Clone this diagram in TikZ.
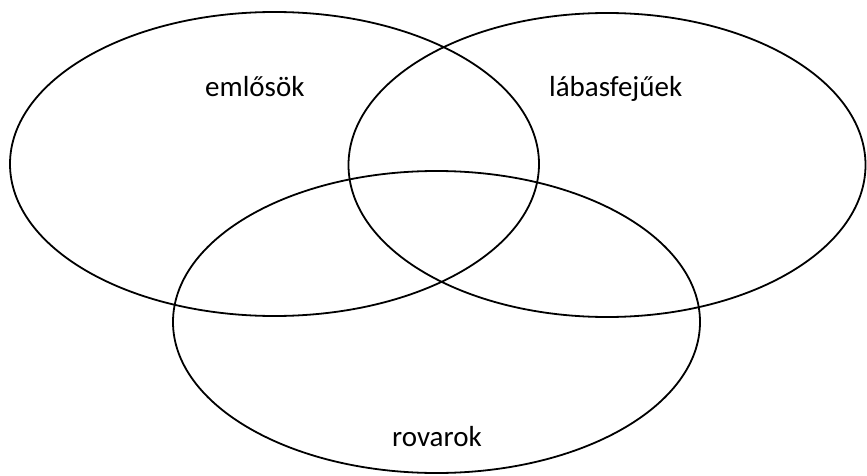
\documentclass[tikz,border=0pt]{standalone}
\usepackage{fontspec}
\setmainfont{Carlito}
\begin{document}
\begin{tikzpicture}[x=1pt,y=-1pt,
  setring/.style={draw=black,line width=1.8pt},
  setlabel/.style={inner sep=0pt,anchor=base west,font=\fontsize{29}{34}\selectfont}]
\useasboundingbox (0,0) rectangle (867,476);
\coordinate (c1) at (274.5,164);
\coordinate (c2) at (607,165);
\coordinate (c3) at (436.5,322);
\draw[setring] (c1) ellipse [x radius=264.5, y radius=152];
\draw[setring] (c2) ellipse [x radius=258.5, y radius=152];
\draw[setring] (c3) ellipse [x radius=263.5, y radius=151];
\node[setlabel] (l1) at (205,97) {emlősök};
\node[setlabel] (l2) at (549,97) {lábasfejűek};
\node[setlabel] (l3) at (392,446) {rovarok};
\end{tikzpicture}
\end{document}
